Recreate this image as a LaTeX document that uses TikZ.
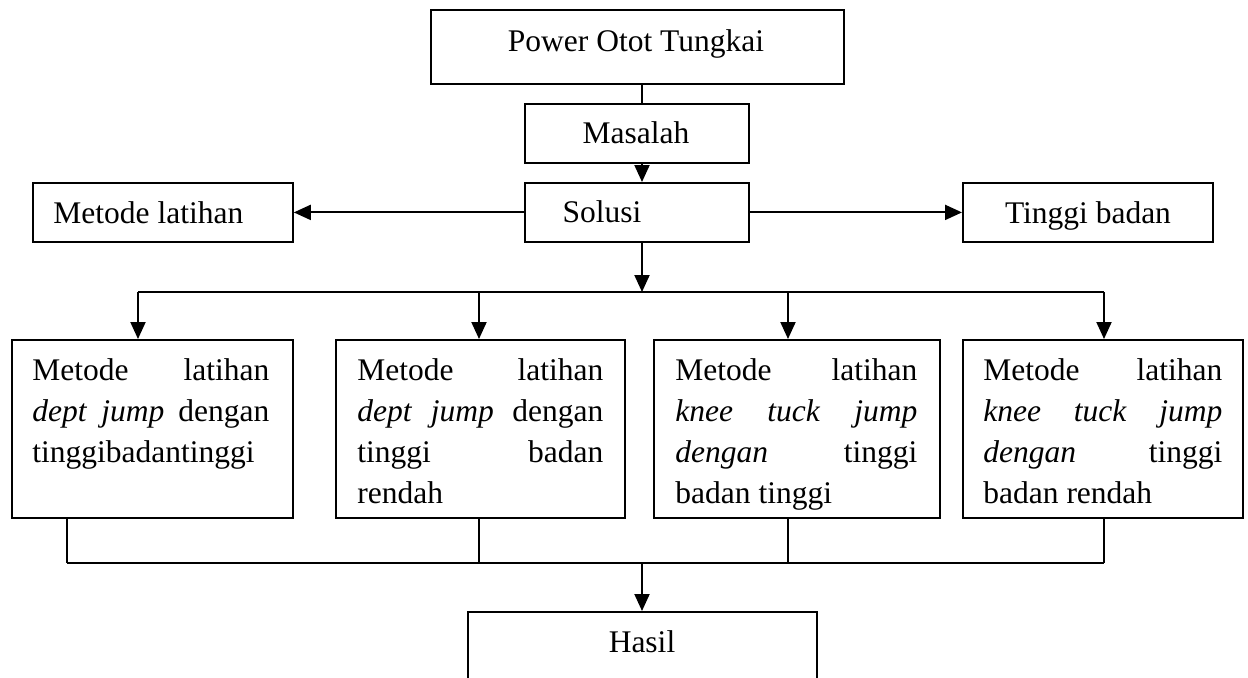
\documentclass[tikz,border=0pt]{standalone}
\usepackage{fontspec}
\setmainfont{Liberation Serif}
\usetikzlibrary{arrows.meta}
\newcommand\diafs{\fontsize{15.75pt}{20.5pt}\selectfont}
\newcommand\jl[1]{\hbox to \hsize{#1}}
\newcommand\lline[1]{\hbox{#1}}
\newcommand\tblock[2]{\vtop{\hsize=#1\parindent=0pt\baselineskip=20.5pt #2}}
\begin{document}
\begin{tikzpicture}[x=0.5pt,y=-0.5pt,
  box/.style={draw, line width=0.9pt, inner sep=0pt, anchor=north west, font=\diafs},
  arr/.style={line width=1pt, -{Triangle[length=8.5pt,width=7.5pt]}},
  conn/.style={line width=1pt},
  thinconn/.style={line width=0.6pt},
  lbl/.style={inner sep=0pt, font=\diafs},
]
\useasboundingbox (0,0) rectangle (1248,677);
\clip (0,0) rectangle (1248,677);

% top boxes
\node[box, minimum width=206.5pt, minimum height=37pt] (pow) at (430,9) {};
\node[lbl, anchor=base] (powtxt) at (636,51) {Power Otot Tungkai};
\node[box, minimum width=112pt, minimum height=29.5pt] (mas) at (524,103) {};
\node[lbl, anchor=base] (mastxt) at (636,143) {Masalah};
\node[box, minimum width=112pt, minimum height=29.5pt] (sol) at (524,182) {};
\node[lbl, anchor=base] (soltxt) at (602,222) {Solusi};
\node[box, minimum width=130pt, minimum height=29.5pt] (met) at (32,182) {};
\node[lbl, anchor=base west] (mettxt) at (53,223) {Metode latihan};
\node[box, minimum width=125pt, minimum height=29.5pt] (tin) at (962,182) {};
\node[lbl, anchor=base] (tintxt) at (1088,223) {Tinggi badan};

% method boxes
\node[box, minimum width=140.5pt, minimum height=89pt] (b1) at (11,339) {};
\node[box, minimum width=144.5pt, minimum height=89pt] (b2) at (335,339) {};
\node[box, minimum width=143pt, minimum height=89pt] (b3) at (653,339) {};
\node[box, minimum width=140pt, minimum height=89pt] (b4) at (962,339) {};

\node[lbl, anchor=base west] (b1t) at (32,380) {\tblock{118.5pt}{%
  \jl{Metode\hfill latihan}
  \jl{\textit{dept}\hfill\textit{jump}\hfill dengan}
  \lline{tinggibadantinggi}}};
\node[lbl, anchor=base west] (b2t) at (357,380) {\tblock{123pt}{%
  \jl{Metode\hfill latihan}
  \jl{\textit{dept}\hfill\textit{jump}\hfill dengan}
  \jl{tinggi\hfill badan}
  \lline{rendah}}};
\begin{scope}
  \clip (653,339) rectangle (939,511);
  \node[lbl, anchor=base west] (b3t) at (675,380) {\tblock{121pt}{%
    \jl{Metode\hfill latihan}
    \jl{\textit{knee}\hfill\textit{tuck}\hfill\textit{jump}}
    \jl{\textit{dengan}\hfill tinggi}
    \lline{badan tinggi}}};
\end{scope}
\node[lbl, anchor=base west] (b4t) at (983,380) {\tblock{119.5pt}{%
  \jl{Metode\hfill latihan}
  \jl{\textit{knee}\hfill\textit{tuck}\hfill\textit{jump}}
  \jl{\textit{dengan}\hfill tinggi}
  \lline{badan rendah}}};

% result box
\node[box, minimum width=174.5pt, minimum height=50pt] (has) at (467,611) {};
\node[lbl, anchor=base] (hastxt) at (642,652) {Hasil};

% connectors top
\coordinate (cx) at (642,0);
\draw[conn] (pow.south -| cx) -- (mas.north -| cx);
\draw[arr] (mas.south -| cx) -- (sol.north -| cx);
\draw[arr] (sol.west) -- (met.east);
\draw[arr] (sol.east) -- (tin.west);
\coordinate (hl) at (642,292);
\draw[arr] (sol.south -| cx) -- (hl);

\coordinate (t1) at (138,292);
\coordinate (t2) at (479,292);
\coordinate (t3) at (788,292);
\coordinate (t4) at (1104,292);
\draw[conn] (t1) -- (t4);
\draw[arr] (t1) -- (t1 |- b1.north);
\draw[arr] (t2) -- (t2 |- b2.north);
\draw[arr] (t3) -- (t3 |- b3.north);
\draw[arr] (t4) -- (t4 |- b4.north);

% connectors bottom
\coordinate (u1) at (67,563);
\coordinate (u2) at (479,563);
\coordinate (u3) at (788,563);
\coordinate (u4) at (1104,563);
\coordinate (u0) at (642,563);
\draw[thinconn] (b1.south -| u1) -- (u1);
\draw[thinconn] (b2.south -| u2) -- (u2);
\draw[thinconn] (b3.south -| u3) -- (u3);
\draw[thinconn] (b4.south -| u4) -- (u4);
\draw[line width=0.8pt] (u1) -- (u4);
\draw[arr] (u0) -- (has.north -| u0);
\end{tikzpicture}
\end{document}
